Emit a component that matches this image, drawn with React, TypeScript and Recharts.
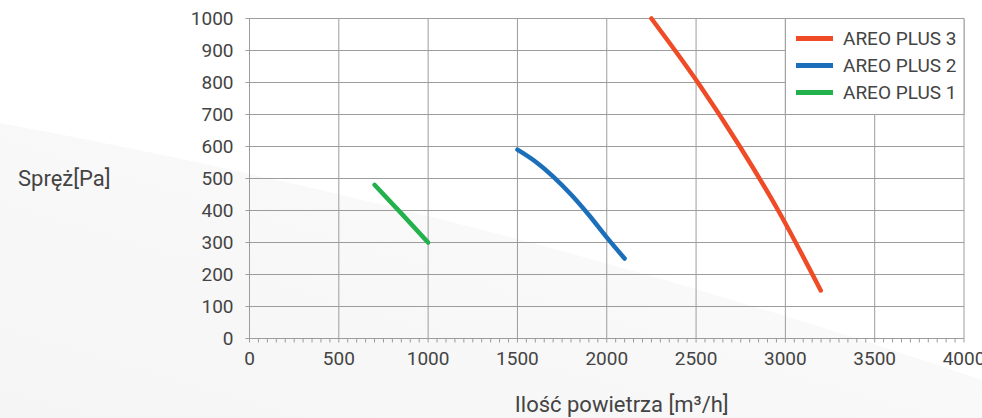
import React from 'react';
import { LineChart, Line, XAxis, YAxis, CartesianGrid, Legend, ReferenceArea } from 'recharts';

// fan curves: x = airflow [m3/h], y = pressure [Pa]
const plus1 = [
  { x: 700, y: 480 }, { x: 850, y: 391 }, { x: 1000, y: 300 },
];
const plus2 = [
  { x: 1500, y: 590 }, { x: 1600, y: 553 }, { x: 1700, y: 506 }, { x: 1800, y: 450 },
  { x: 1900, y: 386 }, { x: 2000, y: 316 }, { x: 2100, y: 250 },
];
const plus3 = [
  { x: 2250, y: 1000 }, { x: 2510, y: 800 }, { x: 2745, y: 600 },
  { x: 2960, y: 400 }, { x: 3198, y: 150 },
];

const series = [
  { name: 'AREO PLUS 3', color: '#ef4b27', data: plus3 },
  { name: 'AREO PLUS 2', color: '#1b6fba', data: plus2 },
  { name: 'AREO PLUS 1', color: '#22b14c', data: plus1 },
];

const xMajor = [0, 500, 1000, 1500, 2000, 2500, 3000, 3500, 4000];
const yTicks = [0, 100, 200, 300, 400, 500, 600, 700, 800, 900, 1000];
// small ticks every 50 along the x axis
const xMinor: number[] = [];
for (let v = 0; v <= 4000; v += 50) xMinor.push(v);

const FONT = 'Roboto, "Noto Sans", sans-serif';
const GRID = '#9c9c9c';
const TEXT = '#444';

const LegendBox = () => (
  <div style={{ fontFamily: FONT, fontSize: 19, color: TEXT }}>
    {series.map((s) => (
      <div key={s.name} style={{ display: 'flex', alignItems: 'center', height: 27 }}>
        <span style={{ display: 'inline-block', width: 37, height: 5, background: s.color, marginRight: 10 }} />
        <span>{s.name}</span>
      </div>
    ))}
  </div>
);

export default function App() {
  return (
    <div style={{ position: 'absolute', left: 0, top: 0, width: 982, height: 418, background: '#fff', fontFamily: FONT }}>
      <svg width={982} height={418} style={{ position: 'absolute', left: 0, top: 0 }}>
        <defs>
          <linearGradient id="bgShade" x1="0" y1="1" x2="1" y2="0">
            <stop offset="0%" stopColor="#f5f5f5" />
            <stop offset="100%" stopColor="#fcfcfc" />
          </linearGradient>
        </defs>
        <path d="M0,123 Q500,215 982,380 L982,418 L0,418 Z" fill="url(#bgShade)" />
      </svg>
      <LineChart
        width={982}
        height={418}
        margin={{ top: 18.5, right: 18, bottom: 0, left: 0 }}
        style={{ position: 'absolute', left: 0, top: 0 }}
      >
        <CartesianGrid stroke={GRID} verticalValues={xMajor} horizontalValues={yTicks} />
        <XAxis
          dataKey="x"
          type="number"
          domain={[0, 4000]}
          ticks={xMinor}
          interval={0}
          height={79.5}
          tickSize={4}
          tickMargin={9}
          tickFormatter={(v: number) => (v % 500 === 0 ? String(v) : '')}
          tick={{ fill: TEXT, fontSize: 19 }}
          stroke={GRID}
          label={{ value: 'Ilość powietrza [m³/h]', position: 'insideBottom', offset: 6, dx: 15, fill: TEXT, fontSize: 22 }}
        />
        <YAxis
          type="number"
          domain={[0, 1000]}
          ticks={yTicks}
          interval={0}
          width={249.5}
          tickSize={4}
          tickMargin={12}
          tick={{ fill: TEXT, fontSize: 19 }}
          stroke={GRID}
          label={{ value: 'Spręż[Pa]', position: 'insideLeft', offset: 18, fill: TEXT, fontSize: 22 }}
        />
        <ReferenceArea x1={3000} x2={4000} y1={700} y2={1000} fill="#fff" fillOpacity={1} stroke={GRID} />
        {series.map((s) => (
          <Line
            key={s.name}
            data={s.data}
            dataKey="y"
            name={s.name}
            type="monotone"
            stroke={s.color}
            strokeWidth={4.5}
            strokeLinecap="round"
            dot={false}
            activeDot={false}
            isAnimationActive={false}
          />
        ))}
        <Legend
          layout="vertical"
          align="center"
          verticalAlign="middle"
          content={<LegendBox />}
          wrapperStyle={{ position: 'absolute', left: 796, top: 25, width: 'auto', height: 'auto' }}
        />
      </LineChart>
    </div>
  );
}
